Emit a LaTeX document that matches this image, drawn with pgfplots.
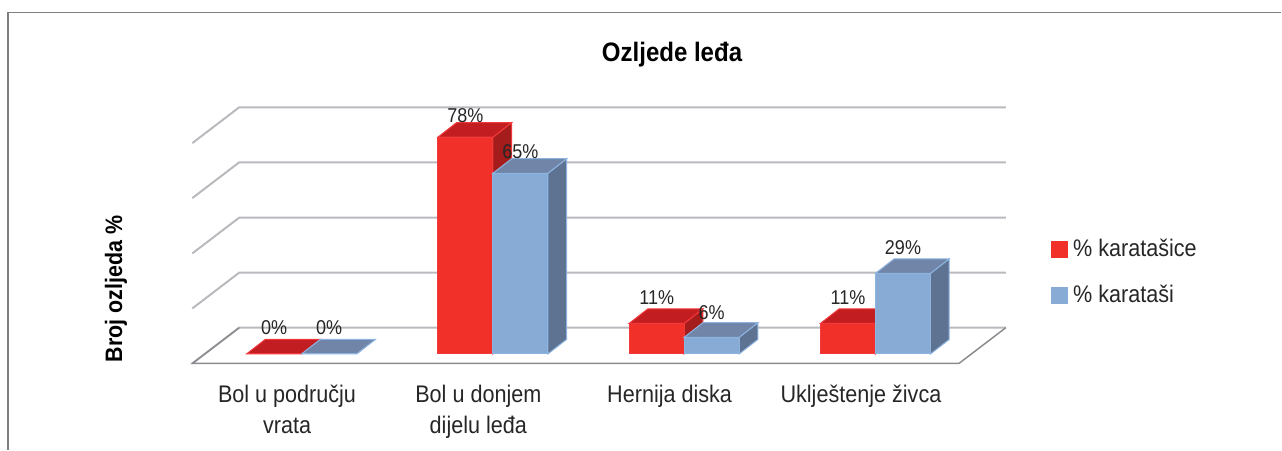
\documentclass[border=0pt]{standalone}
\usepackage{pgfplots}
\pgfplotsset{compat=1.18}
\usepackage{fontspec}
\setmainfont[FakeStretch=0.9]{Liberation Sans}
\definecolor{redF}{HTML}{F03029}
\definecolor{redT}{HTML}{C21E22}
\definecolor{redS}{HTML}{A51C1C}
\definecolor{redE}{HTML}{F2383A}
\definecolor{bluF}{HTML}{87ABD5}
\definecolor{bluT}{HTML}{7085A8}
\definecolor{bluS}{HTML}{5E7391}
\definecolor{bluE}{HTML}{8DB3E0}
\definecolor{gridc}{HTML}{B8BABE}
\definecolor{floorc}{HTML}{8C8C90}
\definecolor{framec}{HTML}{7F7F7F}
% one bar: left edge (category units), value, colour prefix, label raise in pt
\newcommand{\barthreeD}[4]{%
  \pgfmathsetmacro{\xa}{#1}%
  \pgfmathsetmacro{\xb}{#1+0.2875}%
  \pgfmathsetmacro{\xc}{#1+0.2875+0.098}%
  \pgfmathsetmacro{\xd}{#1+0.098}%
  \pgfmathsetmacro{\yb}{#2+5.25}%
  \pgfmathsetmacro{\yo}{5.25}%
  \pgfmathsetmacro{\xm}{#1+0.14375}%
  \addplot[forget plot,fill=#3S,draw=#3E,line width=1pt] coordinates {(\xb,0) (\xc,\yo) (\xc,\yb) (\xb,#2)} -- cycle;
  \addplot[forget plot,fill=#3T,draw=#3E,line width=1pt] coordinates {(\xa,#2) (\xb,#2) (\xc,\yb) (\xd,\yb)} -- cycle;
  \addplot[forget plot,fill=#3F,draw=#3E,line width=1pt] coordinates {(\xa,0) (\xb,0) (\xb,#2) (\xa,#2)} -- cycle;
  \edef\tmp{\noexpand\node[font=\noexpand\fontsize{20}{23}\noexpand\selectfont,text=black!85,anchor=center,inner sep=0pt] at (axis cs:\xm,#2) [yshift=#4pt] {#2\noexpand\%};}\tmp
}
% gridline in the wall: value on the chart's y scale
\newcommand{\wallline}[1]{%
  \pgfmathsetmacro{\yf}{#1-3.43}%
  \pgfmathsetmacro{\yg}{#1+9.47}%
  \addplot[forget plot,gridc,line width=2pt] coordinates {(-0.5712,\yf) (-0.3257,\yg) (3.6815,\yg)};
}
\begin{document}
\begin{tikzpicture}[x=1pt,y=1pt]
\begin{axis}[
  at={(0,0)},anchor=south west,
  width=1282pt,height=450pt,scale only axis,
  xmin=-1.5763,xmax=5.1218,ymin=-34.53,ymax=127.34,
  axis line style={draw=none},
  clip=false,
  xtick={-0.076,0.924,1.924,2.924},
  xticklabels={Bol u području\\vrata,Bol u donjem\\dijelu leđa,Hernija diska,Uklještenje živca},
  x tick label style={align=center,font=\fontsize{24}{31}\selectfont,text=black!85,yshift=68pt,anchor=north},
  major tick length=0pt,
  ytick=\empty,
  ylabel={\textbf{Broj ozljeda \%}},
  ylabel style={at={(axis description cs:0.0905,0.358)},anchor=center,font=\fontsize{23.8}{27}\selectfont,rotate=0},
  title={\textbf{Ozljede leđa}},
  title style={at={(axis description cs:0.5245,0.865)},anchor=center,font=\fontsize{26.7}{30}\selectfont},
  legend style={at={(axis description cs:0.8198,0.319)},anchor=south west,draw=none,fill=none,
    font=\fontsize{24}{27}\selectfont,text=black!85,row sep=23pt,inner sep=0pt},
  legend cell align=left,
  legend image code/.code={\fill[#1] (0pt,-8pt) rectangle (16pt,8pt);},
]
% frame of the chart
\addplot[forget plot,framec,line width=1.2pt] coordinates {(-1.5345,-34.53) (-1.5345,123) (5.1218,123)};
% walls and floor
\wallline{79.3}
\wallline{59.5}
\wallline{39.6}
\wallline{19.8}
\wallline{0}
\addplot[forget plot,floorc,line width=1.5pt] coordinates {(-0.3257,9.47) (-0.5712,-3.43) (3.4360,-3.43) (3.6815,9.47)};
% bars: category, series
\barthreeD{-0.2875}{0}{red}{26}
\barthreeD{0}{0}{blu}{26}
\barthreeD{0.7125}{78}{red}{22}
\barthreeD{1}{65}{blu}{22}
\barthreeD{1.7125}{11}{red}{26}
\barthreeD{2}{6}{blu}{25}
\barthreeD{2.7125}{11}{red}{26}
\barthreeD{3}{29}{blu}{26}
\addlegendimage{redF}\addlegendentry{\hspace*{4pt}\% karatašice}
\addlegendimage{bluF}\addlegendentry{\hspace*{4pt}\% karataši}
\end{axis}
\end{tikzpicture}
\end{document}
